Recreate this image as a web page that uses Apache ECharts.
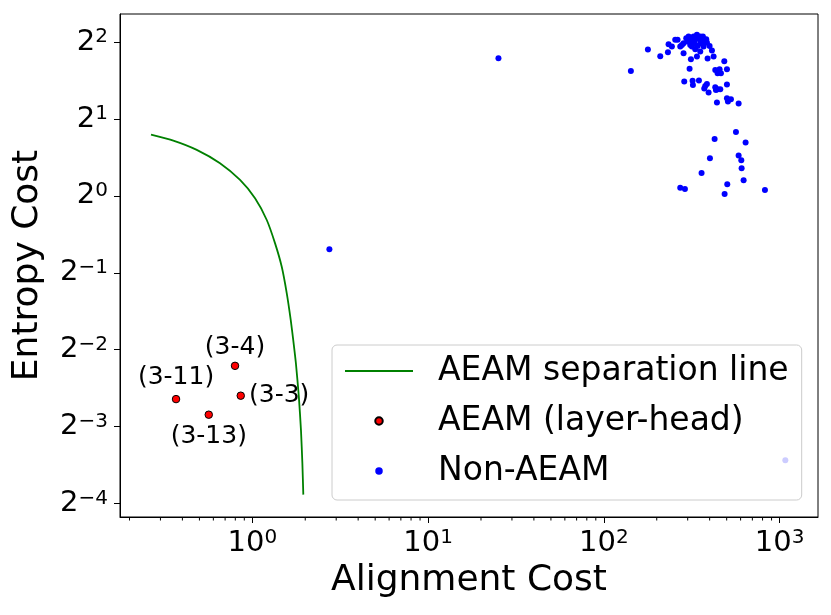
<!DOCTYPE html>
<html>
<head>
<meta charset="utf-8">
<title>AEAM</title>
<script src="https://cdn.jsdelivr.net/npm/echarts@6/dist/echarts.min.js"></script>
<style>
html,body{margin:0;padding:0;background:#fff;}
#main{width:831px;height:615px;}
</style>
</head>
<body>
<div id="main"></div>
<script>
// 分隔线 (读图得到的点)
var lineX = [0.2651, 0.3550, 0.4827, 0.6547, 0.8511, 1.036, 1.208, 1.347, 1.470, 1.570, 1.654, 1.709, 1.769, 1.839, 1.891, 1.926, 1.950];
var lineY = [1.739, 1.647, 1.515, 1.343, 1.155, 0.9795, 0.805, 0.652, 0.528, 0.4156, 0.3265, 0.2726, 0.2216, 0.1635, 0.1210, 0.0897, 0.0676];

// AEAM 点
var aeamNames = ['(3-4)', '(3-11)', '(3-3)', '(3-13)'];
var aeamX = [0.797, 0.368, 0.859, 0.565];
var aeamY = [0.216, 0.160, 0.165, 0.139];

// Non-AEAM 点
var nonX = [142.5, 178.1, 209.4, 233.5, 231.5, 243.9, 254.8, 262.7, 278.1, 284.2,
    294.4, 303.5, 310.2, 312.9, 317.0, 324.0, 331.2, 338.5, 345.9, 353.6,
    361.4, 369.4, 377.6, 385.9, 389.3, 338.5, 353.6, 412.1, 421.2, 484.5,
    307.5, 430.5, 443.8, 455.6, 463.7, 501.7, 286.7, 319.8, 321.2, 347.5,
    377.6, 372.7, 385.9, 394.5, 430.5, 434.2, 443.8, 459.7, 501.7, 440.0,
    501.7, 508.3, 528.6, 584.6, 564.5, 426.8, 640.6, 401.5, 584.6, 605.4,
    608.0, 359.8, 624.2, 503.9, 272.1, 289.3, 486.6, 825.3,
    299.5, 326.9, 341.5, 366.2, 382.5, 317.0, 372.7, 331.2, 272.1, 353.6,
    399.7, 310.2, 284.2,
    25.14, 2.744, 1078];
var nonY = [3.090, 3.746, 3.527, 3.931, 3.657, 3.850, 4.088, 4.088, 3.907, 3.624,
    4.150, 4.212, 3.907, 3.433, 4.027, 4.212, 4.088, 4.276, 4.150, 3.967,
    4.088, 3.850, 4.027, 3.991, 3.454, 3.517, 3.680, 3.713, 3.517, 3.372,
    3.147, 3.118, 3.026, 3.137, 3.026, 3.137, 2.807, 2.824, 2.723, 2.832,
    2.699, 2.635, 2.748, 2.541, 2.667, 2.603, 2.619, 2.619, 2.731, 2.322,
    2.415, 2.343, 2.393, 2.301, 1.782, 1.673, 1.618, 1.405, 1.439, 1.380,
    1.284, 1.231, 1.152, 1.111, 1.078, 1.065, 1.018, 1.056,
    4.027, 3.967, 3.872, 4.212, 4.112, 3.850, 3.967, 3.757, 3.850, 4.212,
    3.872, 4.088, 3.967,
    3.465, 0.618, 0.0922];

// 坐标范围和次刻度
var xMin = 0.1766, xMax = 1654;
var yMin = 0.05524, yMax = 5.162;
var xMinorTicks = [0.2, 0.3, 0.4, 0.5, 0.6, 0.7, 0.8, 0.9,
    2, 3, 4, 5, 6, 7, 8, 9,
    20, 30, 40, 50, 60, 70, 80, 90,
    200, 300, 400, 500, 600, 700, 800, 900];

var FONT = 'DejaVu Sans';

function zip(a, b){
    var out = [];
    for(var i = 0; i < a.length; i++){
        out.push([a[i], b[i]]);
    }
    return out;
}

// 上标刻度标签
function supLabel(base, logFn){
    return function(v){
        var e = Math.round(logFn(v));
        var s = e < 0 ? '\u2212' + (-e) : '' + e;
        return '{b|' + base + '}{s|' + s + '}';
    };
}
var tickRich = {
    b: {fontFamily: FONT, fontSize: 29, lineHeight: 30, color: '#000'},
    s: {fontFamily: FONT, fontSize: 20, lineHeight: 20, verticalAlign: 'top', color: '#000'}
};

// 标注位置
var labelPos = {
    '(3-4)': ['top', 2],
    '(3-11)': ['top', 5],
    '(3-3)': ['right', 4],
    '(3-13)': ['bottom', 5]
};
var aeamData = [];
for(var i = 0; i < aeamNames.length; i++){
    aeamData.push({
        name: aeamNames[i],
        value: [aeamX[i], aeamY[i]],
        label: {position: labelPos[aeamNames[i]][0], distance: labelPos[aeamNames[i]][1]}
    });
}

var myChart = echarts.init(document.getElementById('main'));

var option = {
    animation: false,
    backgroundColor: '#fff',
    grid: {
        left: 120, right: 13, top: 14, bottom: 98,
        show: true, borderColor: '#000', borderWidth: 1,
        outerBoundsMode: 'none'
    },
    legend: {
        orient: 'vertical',
        left: 332, top: 345,
        data: [
            // 线条图例不要中间的圆点
            {name: 'AEAM separation line', itemStyle: {color: 'rgba(0,0,0,0)', borderWidth: 0, opacity: 0}},
            'AEAM (layer-head)',
            'Non-AEAM'
        ],
        itemWidth: 68, itemHeight: 7.5, itemGap: 8,
        padding: [5, 13, 8, 12],
        backgroundColor: 'rgba(255,255,255,0.8)',
        borderColor: '#cccccc', borderWidth: 1, borderRadius: 5,
        textStyle: {fontFamily: FONT, fontSize: 33, lineHeight: 42, color: '#000', padding: [0, 0, 0, 20]}
    },
    xAxis: {
        type: 'log', logBase: 10, min: xMin, max: xMax,
        name: 'Alignment Cost', nameLocation: 'middle', nameGap: 44,
        nameTextStyle: {fontFamily: FONT, fontSize: 36, lineHeight: 36, color: '#000'},
        axisLine: {show: true, onZero: false, lineStyle: {color: '#000', width: 1}},
        axisTick: {show: true, length: 6, lineStyle: {color: '#000', width: 1}},
        axisLabel: {margin: 11, formatter: supLabel('10', Math.log10), rich: tickRich, showMinLabel: false, showMaxLabel: false},
        splitLine: {show: false}
    },
    yAxis: {
        type: 'log', logBase: 2, min: yMin, max: yMax,
        name: 'Entropy Cost', nameLocation: 'middle', nameGap: 74,
        nameTextStyle: {fontFamily: FONT, fontSize: 36, lineHeight: 36, color: '#000'},
        axisLine: {show: true, onZero: false, lineStyle: {color: '#000', width: 1}},
        axisTick: {show: true, length: 6, lineStyle: {color: '#000', width: 1}},
        axisLabel: {margin: 12, formatter: supLabel('2', Math.log2), rich: tickRich, showMinLabel: false, showMaxLabel: false},
        splitLine: {show: false}
    },
    series: [
        {
            name: 'AEAM separation line',
            type: 'line',
            data: zip(lineX, lineY),
            symbol: 'none',
            smooth: 0.2,
            lineStyle: {color: '#008000', width: 1.8},
            itemStyle: {color: '#008000'},
            z: 2
        },
        {
            name: 'AEAM (layer-head)',
            type: 'scatter',
            data: aeamData,
            symbolSize: 7.5,
            itemStyle: {color: '#ff0000', borderColor: '#000', borderWidth: 1, opacity: 1},
            label: {show: true, formatter: '{b}', fontFamily: FONT, fontSize: 25, color: '#000'},
            z: 3
        },
        {
            name: 'Non-AEAM',
            type: 'scatter',
            data: zip(nonX, nonY),
            symbolSize: 6,
            itemStyle: {color: '#0000ff', opacity: 1},
            z: 3
        },
        {
            // x 轴次刻度
            type: 'custom',
            silent: true,
            data: xMinorTicks.map(function(v){ return [v, yMin]; }),
            renderItem: function(params, api){
                var p = api.coord([api.value(0), api.value(1)]);
                return {
                    type: 'line',
                    shape: {x1: p[0], y1: p[1], x2: p[0], y2: p[1] + 3.5},
                    style: {stroke: '#000', lineWidth: 1}
                };
            },
            z: 5
        }
    ]
};

myChart.setOption(option);
</script>
</body>
</html>
